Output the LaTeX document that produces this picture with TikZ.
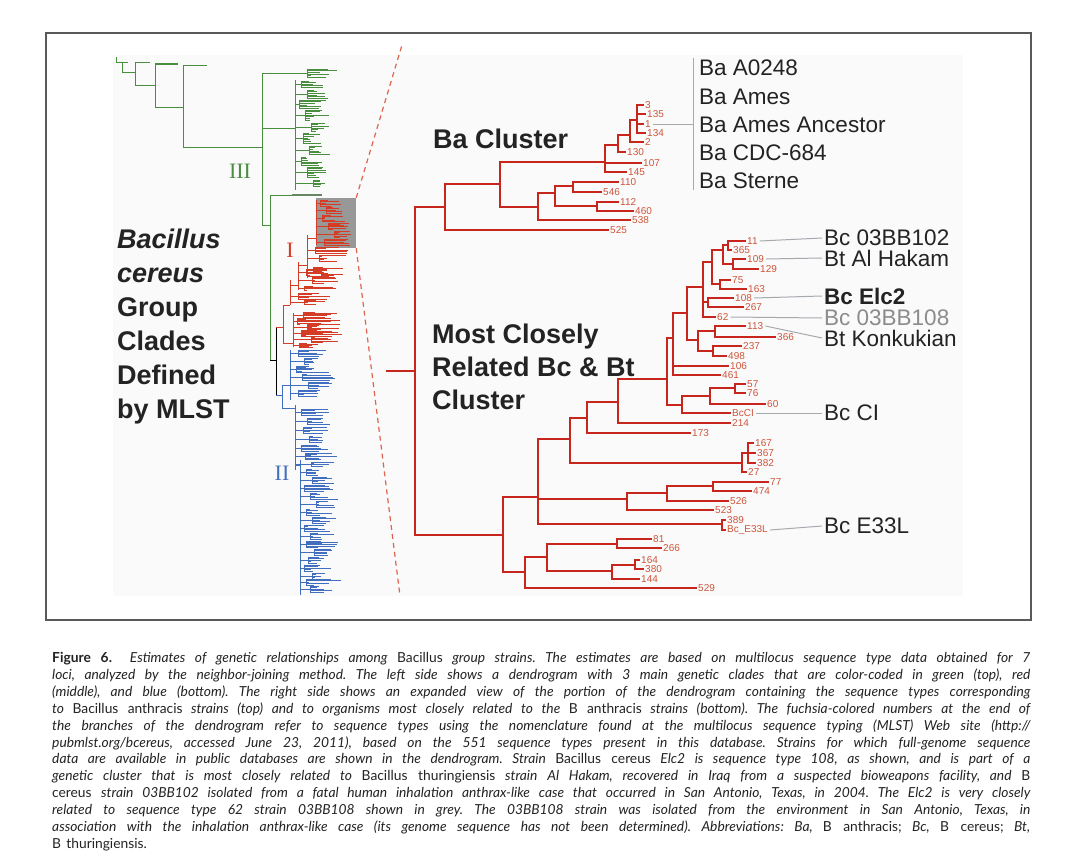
\documentclass[tikz,border=0pt]{standalone}
\usepackage{fontspec}
\setmainfont{Liberation Sans}
\newfontfamily\capfont[WordSpace=1.5]{Lato}
\newfontfamily\romfont{Liberation Serif}

\definecolor{treered}{RGB}{200,38,28}
\definecolor{leafred}{RGB}{205,85,60}
\definecolor{cladegreen}{RGB}{72,142,62}
\definecolor{cladered}{RGB}{212,60,38}
\definecolor{cladeblue}{RGB}{66,110,192}
\definecolor{leadgray}{RGB}{165,170,175}
\definecolor{inkdark}{RGB}{35,35,35}
\definecolor{boxgray}{RGB}{152,152,152}
\definecolor{zoomred}{RGB}{222,100,80}

\tikzset{
  br/.style={draw=treered, line width=2pt, line cap=rect},
  lf/.style={anchor=west, inner xsep=2pt, inner ysep=0pt, text=leafred, font=\fontsize{10}{10}\selectfont},
  lead/.style={draw=leadgray, line width=1pt},
  strain/.style={anchor=west, inner xsep=2pt, inner ysep=0pt, text=inkdark, font=\fontsize{22.5}{22.5}\selectfont},
  bigt/.style={anchor=base west, inner sep=0pt, text=inkdark, font=\fontsize{27}{27}\selectfont\bfseries},
  rom/.style={inner sep=0pt, font=\romfont\fontsize{22}{22}\selectfont},
  gspine/.style={draw=cladegreen, line width=0.9pt},
  gleaf/.style={draw=cladegreen, line width=0.55pt},
  rspine/.style={draw=cladered, line width=0.9pt},
  rleaf/.style={draw=cladered, line width=0.55pt},
  bspine/.style={draw=cladeblue, line width=0.9pt},
  bleaf/.style={draw=cladeblue, line width=0.55pt},
  kspine/.style={draw=black, line width=0.9pt},
  zoomline/.style={draw=zoomred, line width=1.2pt, dash pattern=on 5pt off 4pt},
  capline/.style={anchor=base west, inner sep=0pt, text=inkdark, font=\capfont\fontsize{13.8}{16}\selectfont\frenchspacing}
}

% spine x, centre y, offset, half height, leaves, max length
\newcommand\clump[7]{%
  \draw[#1] (#2,#3) -- (#2+#4,#3);
  \draw[#1] (#2+#4,#3-#5) -- (#2+#4,#3+#5);
  \foreach \k in {0,...,#6}{
    \pgfmathsetmacro\ly{#3-#5+2*#5*\k/#6}
    \pgfmathsetmacro\lx{#2+#4+3+rnd*#7}
    \draw[#1] (#2+#4,\ly) -- (\lx,\ly);
  }%
}

\begin{document}
\begin{tikzpicture}[x=1pt, y=-1pt]
  \pgfmathsetseed{11}
  \fill[white] (0,0) rectangle (1078,867);
  \useasboundingbox (0,0) rectangle (1078,867);
  \fill[black!2] (113,55) rectangle (963,596);
  \draw[black!65, line width=1.3pt] (46,33) rectangle (1031,620);

  % left dendrogram
  \node[fill=boxgray, minimum width=40pt, minimum height=50pt, inner sep=0pt] (zoombox) at (336,223) {};
  \coordinate (zt) at (402,45);
  \coordinate (zb) at (400,596);
  \draw[zoomline] (zoombox.north east) -- (zt);
  \draw[zoomline] (zoombox.south east) -- (zb);

  \draw[gspine] (116,57)--(116,62)--(128,62);
  \draw[gspine] (122,62)--(122,72)--(135,72);
  \draw[gspine] (135,62)--(135,85)--(155,85);
  \draw[gspine] (135,62)--(150,62);
  \draw[gspine] (155,64)--(155,107)--(183,107);
  \draw[gspine, line width=1.8pt] (155,64)--(178,64);
  \draw[gspine] (183,65)--(183,147)--(262,147);
  \draw[gspine] (183,65)--(207,65);
  \draw[gspine] (262,73)--(262,225)--(270,225);
  \draw[gspine] (270,195)--(270,360);
  \draw[gspine] (270,195)--(322,195);
  \draw[draw=cladegreen!45!gray, line width=2.5pt] (292,195)--(322,195);
  \clump{gleaf}{262}{73}{45}{4}{5}{28}
  \draw[gspine] (262,128)--(295,128);
  \draw[gspine] (295,80)--(295,190);
  \foreach \cy/\co/\ch/\cn/\cl in {84/6/3/4/30, 94/12/4/5/22, 104/4/4/5/26, 115/10/5/6/22, 127/16/4/5/18, 138/8/5/6/24, 150/14/4/5/20, 161/6/4/5/26, 172/12/5/6/20, 183/18/3/4/16}
    \clump{gleaf}{295}{\cy}{\co}{\ch}{\cn}{\cl};

  \draw[kspine] (270,360)--(276,360);
  \draw[kspine] (276,327)--(276,395);

  \draw[rspine] (276,327)--(283,327);
  \draw[rspine] (283,305)--(283,343);
  \draw[rspine] (283,343)--(293,343);
  \draw[rspine] (293,313)--(293,347);
  \foreach \cy/\co/\ch/\cn/\cl in {315/10/3/5/40, 321/4/3/5/44, 327/14/3/6/36, 333/8/3/6/44, 339/18/3/5/30, 345/6/2/4/34}
    \clump{rleaf}{293}{\cy}{\co}{\ch}{\cn}{\cl};
  \draw[rspine] (283,305)--(290,305);
  \draw[rspine] (290,280)--(290,305);
  \draw[rspine] (290,285)--(298,285);
  \draw[rspine] (298,262)--(298,290);
  \draw[rspine] (298,265)--(307,265);
  \draw[rspine] (307,235)--(307,278);
  \draw[rspine] (307,238)--(316,238);
  \draw[rspine] (316,200)--(316,245);
  \foreach \cy/\co/\ch/\cn/\cl in {296/8/3/4/30, 302/14/2/3/26}
    \clump{rleaf}{290}{\cy}{\co}{\ch}{\cn}{\cl};
  \foreach \cy/\co/\ch/\cn/\cl in {272/8/3/4/28, 280/14/3/4/26, 288/6/2/3/30}
    \clump{rleaf}{298}{\cy}{\co}{\ch}{\cn}{\cl};
  \foreach \cy/\co/\ch/\cn/\cl in {250/8/3/4/30, 258/12/3/4/26, 270/6/3/4/30, 276/14/2/3/24}
    \clump{rleaf}{307}{\cy}{\co}{\ch}{\cn}{\cl};
  \foreach \cy/\co/\ch/\cn/\cl in {203/4/3/4/22, 210/10/3/4/16, 218/6/3/5/26, 226/12/3/5/24, 234/18/3/5/18, 242/8/3/4/28}
    \clump{rleaf}{316}{\cy}{\co}{\ch}{\cn}{\cl};

  \draw[bspine] (276,395)--(282,395);
  \draw[bspine] (282,385)--(282,408);
  \draw[bspine] (282,385)--(290,385);
  \draw[bspine] (290,350)--(290,400);
  \draw[bspine] (282,408)--(295,408);
  \draw[bspine] (295,405)--(295,470);
  \draw[bspine] (295,465)--(300,465);
  \draw[bspine] (300,460)--(300,595);
  \foreach \cy/\co/\ch/\cn/\cl in {353/8/3/4/26, 361/14/3/4/24, 369/6/3/5/30, 377/12/3/4/36, 385/18/3/4/22, 393/8/3/4/28}
    \clump{bleaf}{290}{\cy}{\co}{\ch}{\cn}{\cl};
  \foreach \cy/\co/\ch/\cn/\cl in {412/6/3/4/26, 421/12/3/4/22, 430/8/3/4/28, 439/14/3/4/20, 448/6/3/4/26, 456/10/3/5/42, 464/16/2/3/24}
    \clump{bleaf}{295}{\cy}{\co}{\ch}{\cn}{\cl};
  \foreach \cy/\co/\ch/\cn/\cl in {472/6/3/4/24, 480/12/3/4/22, 488/4/3/4/28, 496/10/3/4/26, 504/16/3/4/20, 512/6/3/4/26, 520/12/3/4/22, 528/4/3/4/28, 536/10/3/4/24, 544/6/3/5/40, 552/14/3/4/20, 560/8/3/4/26, 568/4/3/4/24, 576/12/3/4/22, 582/6/3/4/42, 589/10/3/4/20}
    \clump{bleaf}{300}{\cy}{\co}{\ch}{\cn}{\cl};

  \node[rom, text=cladegreen] (romIII) at (240,171) {III};
  \node[rom, text=cladered] (romI) at (290,250) {I};
  \node[rom, text=cladeblue] (romII) at (282,473) {II};

  \node[bigt] (lt1) at (117,248) {\itshape Bacillus};
  \node[bigt] (lt2) at (117,282) {\itshape cereus};
  \node[bigt] (lt3) at (117,316) {Group};
  \node[bigt] (lt4) at (117,350) {Clades};
  \node[bigt] (lt5) at (117,384) {Defined};
  \node[bigt] (lt6) at (117,418) {by MLST};

  % expanded tree
  \node[bigt] (bacl) at (433,148) {Ba Cluster};
  \node[bigt] (mcr1) at (432,343) {Most Closely};
  \node[bigt] (mcr2) at (432,376) {Related Bc \& Bt};
  \node[bigt] (mcr3) at (432,409) {Cluster};

  \foreach \n/\x/\y in {3/645/105, 135/647/114, 1/645/124, 134/647/133, 2/645/142, 130/627/152, 107/643/163, 145/628/172, 110/620/182, 546/603/192, 112/620/202, 460/635/211, 538/632/220, 525/610/230,
      11/747/241, 365/733/250, 109/747/259, 129/760/269, 75/732/280, 163/748/289, 108/735/298, 267/745/307, 62/717/317, 113/747/326, 366/777/337, 237/743/346, 498/728/356, 106/730/366, 461/722/375, 57/747/384, 76/747/393, 60/767/404, 214/732/423, 173/692/433,
      167/755/443, 367/757/453, 382/757/463, 27/748/472, 77/770/482, 474/753/491, 526/730/501, 523/715/510, 389/727/520, 81/653/539, 266/663/548, 164/641/560, 380/645/569, 144/641/579, 529/698/588}
    \node[lf] (l\n) at (\x-2,\y) {\n};
  \node[lf] (lBcCI) at (730,413) {BcCI};
  \node[lf] (lE33L) at (725,530) {Bc\_E33L};

  \coordinate (rs) at (387,371);
  \coordinate (r0) at (415,371);
  \coordinate (b1) at (445,207);
  \coordinate (b2) at (500,184);
  \coordinate (b3) at (605,162);
  \coordinate (b5) at (618,145);
  \coordinate (b6) at (630,135);
  \coordinate (b7) at (637,120);
  \coordinate (b4) at (538,207);
  \coordinate (b8) at (555,193);
  \coordinate (b9) at (573,186);
  \coordinate (b10) at (597,206);
  \coordinate (c1) at (503,535);
  \coordinate (c2) at (538,497);
  \coordinate (c3) at (525,572);
  \coordinate (c4) at (570,439);
  \coordinate (c5) at (627,499);
  \coordinate (c6) at (722,524);
  \coordinate (c7) at (587,418);
  \coordinate (c8) at (742,463);
  \coordinate (c9) at (618,402);
  \coordinate (c10) at (667,379);
  \coordinate (c11) at (673,338);
  \coordinate (c12) at (682,405);
  \coordinate (c13) at (710,396);
  \coordinate (c14) at (735,388);
  \coordinate (c15) at (687,313);
  \coordinate (c16) at (703,287);
  \coordinate (c17) at (698,340);
  \coordinate (c18) at (715,331);
  \coordinate (c19) at (713,351);
  \coordinate (c20) at (712,262);
  \coordinate (c21) at (708,302);
  \coordinate (c22) at (723,250);
  \coordinate (c23) at (720,284);
  \coordinate (c24) at (733,264);
  \coordinate (c25) at (728,245);
  \coordinate (c26) at (748,453);
  \coordinate (c27) at (667,493);
  \coordinate (c28) at (713,486);
  \coordinate (c29) at (547,557);
  \coordinate (c30) at (617,544);
  \coordinate (c31) at (612,571);
  \coordinate (c32) at (635,565);

  \draw[br] (rs) -- (r0);
  \foreach \p/\c in {r0/b1, b1/b2, b1/l525, b2/b3, b2/b4, b3/b5, b3/l107, b3/l145, b5/b6, b5/l130, b6/b7, b6/l2,
      b7/l3, b7/l135, b7/l1, b7/l134, b4/b8, b4/l538, b8/b9, b8/b10, b9/l110, b9/l546, b10/l112, b10/l460}
    \draw[br] (\p) |- (\c);
  \foreach \p/\c in {r0/c1, c1/c2, c1/c3, c2/c4, c2/c5, c2/c6, c4/c7, c4/c8, c7/c9, c7/l173, c9/c10, c9/l214,
      c10/c11, c10/c12, c11/c15, c11/l106, c11/l461, c15/c16, c15/c17, c16/c20, c16/c21, c16/l62,
      c20/c22, c20/c23, c22/c25, c22/c24, c25/l11, c25/l365, c24/l109, c24/l129, c23/l75, c23/l163,
      c21/l108, c21/l267, c17/c18, c17/c19, c18/l113, c18/l366, c19/l237, c19/l498,
      c12/c13, c12/lBcCI, c13/c14, c13/l60, c14/l57, c14/l76, c8/c26, c8/l27, c26/l167, c26/l367, c26/l382,
      c5/c27, c5/l523, c27/c28, c27/l526, c28/l77, c28/l474, c6/l389, c6/lE33L,
      c3/c29, c3/l529, c29/c30, c29/c31, c30/l81, c30/l266, c31/c32, c31/l144, c32/l164, c32/l380}
    \draw[br] (\p) |- (\c);

  % strain names
  \node[strain] (sA0248) at (697,68) {Ba A0248};
  \node[strain] (sAmes) at (697,97) {Ba Ames};
  \node[strain] (sAncestor) at (697,125) {Ba Ames Ancestor};
  \node[strain] (sCDC) at (697,153) {Ba CDC-684};
  \node[strain] (sSterne) at (697,181) {Ba Sterne};
  \coordinate (bktT) at (693,58);
  \coordinate (bktB) at (693,190);
  \coordinate (bkt) at (693,124);
  \draw[lead] (bktT) -- (bktB);
  \draw[lead] (l1.east) -- (bkt);

  \node[strain] (s03BB102) at (822,238) {Bc 03BB102};
  \node[strain] (sAlHakam) at (822,258) {Bt Al Hakam};
  \node[strain, font=\fontsize{22.5}{22.5}\selectfont\bfseries] (sElc2) at (822,296) {Bc Elc2};
  \node[strain, text=black!45] (s03BB108) at (822,318) {Bc 03BB108};
  \node[strain] (sKonkukian) at (822,338) {Bt Konkukian};
  \node[strain] (sCI) at (822,413) {Bc CI};
  \node[strain] (sE33L) at (822,526) {Bc E33L};
  \draw[lead] (l11.east) -- (s03BB102.west);
  \draw[lead] (l109.east) -- (sAlHakam.west);
  \draw[lead] (l108.east) -- (sElc2.west);
  \draw[lead] (l62.east) -- (s03BB108.west);
  \draw[lead] (l113.east) -- (sKonkukian.west);
  \draw[lead] (lBcCI.east) -- (sCI.west);
  \draw[lead] (lE33L.east) -- (sE33L.west);

  % caption
  \node[capline] (cap1) at (52,662) {\makebox[978pt][s]{\textbf{Figure 6.}\hspace{1.3em}\itshape Estimates of genetic relationships among {\upshape Bacillus} group strains. The estimates are based on multilocus sequence type data obtained for 7}};
  \node[capline] (cap2) at (52,679) {\makebox[978pt][s]{\itshape loci, analyzed by the neighbor-joining method. The left side shows a dendrogram with 3 main genetic clades that are color-coded in green (top), red}};
  \node[capline] (cap3) at (52,696) {\makebox[978pt][s]{\itshape (middle), and blue (bottom). The right side shows an expanded view of the portion of the dendrogram containing the sequence types corresponding}};
  \node[capline] (cap4) at (52,713) {\makebox[978pt][s]{\itshape to {\upshape Bacillus anthracis} strains (top) and to organisms most closely related to the {\upshape B anthracis} strains (bottom). The fuchsia-colored numbers at the end of}};
  \node[capline] (cap5) at (52,730) {\makebox[978pt][s]{\itshape the branches of the dendrogram refer to sequence types using the nomenclature found at the multilocus sequence typing (MLST) Web site (http://}};
  \node[capline] (cap6) at (52,747) {\makebox[978pt][s]{\itshape pubmlst.org/bcereus, accessed June 23, 2011), based on the 551 sequence types present in this database. Strains for which full-genome sequence}};
  \node[capline] (cap7) at (52,763) {\makebox[978pt][s]{\itshape data are available in public databases are shown in the dendrogram. Strain {\upshape Bacillus cereus} Elc2 is sequence type 108, as shown, and is part of a}};
  \node[capline] (cap8) at (52,780) {\makebox[978pt][s]{\itshape genetic cluster that is most closely related to {\upshape Bacillus thuringiensis} strain Al Hakam, recovered in Iraq from a suspected bioweapons facility, and {\upshape B}}};
  \node[capline] (cap9) at (52,797) {\makebox[978pt][s]{{\upshape cereus} \itshape strain 03BB102 isolated from a fatal human inhalation anthrax-like case that occurred in San Antonio, Texas, in 2004. The Elc2 is very closely}};
  \node[capline] (cap10) at (52,814) {\makebox[978pt][s]{\itshape related to sequence type 62 strain 03BB108 shown in grey. The 03BB108 strain was isolated from the environment in San Antonio, Texas, in}};
  \node[capline] (cap11) at (52,831) {\makebox[978pt][s]{\itshape association with the inhalation anthrax-like case (its genome sequence has not been determined). Abbreviations: Ba, {\upshape B anthracis;} Bc, {\upshape B cereus;} Bt,}};
  \node[capline] (cap12) at (52,848) {B thuringiensis.};
\end{tikzpicture}
\end{document}
